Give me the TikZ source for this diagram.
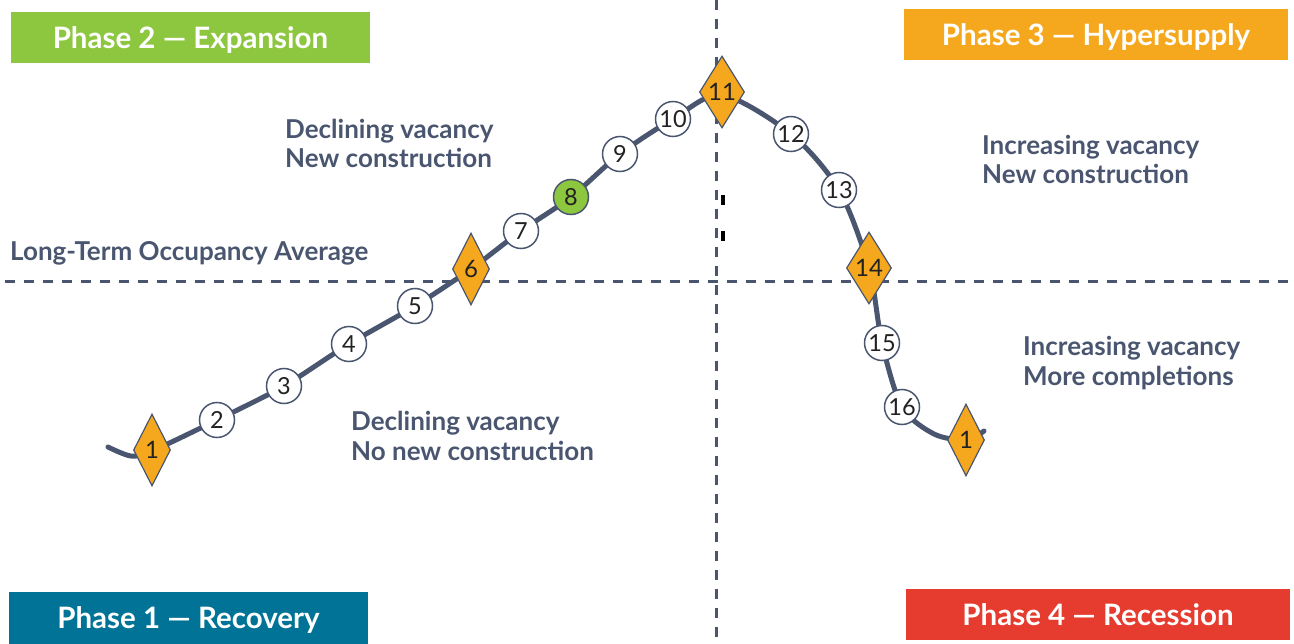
\documentclass[tikz,border=0pt]{standalone}
\usepackage{fontspec}
\setmainfont{Lato}
\usetikzlibrary{shapes.geometric}
\definecolor{slate}{HTML}{4A5670}
\definecolor{orng}{HTML}{F5A81D}
\definecolor{grn}{HTML}{8DC63F}
\definecolor{teal1}{HTML}{007396}
\definecolor{red1}{HTML}{E63C2F}
\definecolor{numtxt}{HTML}{222222}
\begin{document}
\begin{tikzpicture}[x=1pt,y=-1pt,
  pt/.style={circle, draw=slate, line width=1.5pt, fill=white, minimum size=35pt, inner sep=0pt,
    font=\fontsize{23.5}{23.5}\selectfont, text=numtxt},
  dia/.style={diamond, draw=slate, line width=1.2pt, fill=orng, minimum width=37pt, minimum height=72pt,
    inner sep=0pt, font=\fontsize{24}{24}\selectfont, text=numtxt},
  phase/.style={text=white, font=\bfseries\fontsize{29.5}{29.5}\selectfont, inner sep=0pt, text depth=0pt},
  lab/.style={text=slate, font=\bfseries\fontsize{26}{26}\selectfont, anchor=base west, inner sep=0pt},
  axisline/.style={slate, line width=3pt, dash pattern=on 10pt off 9pt},
  curveline/.style={slate, line width=5pt, line cap=round}
]
\useasboundingbox (0,0) rectangle (1294,644);

% phase boxes
\node[phase, fill=grn, minimum width=359pt, minimum height=51pt] (p2) at (190.5,37.5) {Phase 2 — Expansion};
\node[phase, fill=orng, minimum width=384pt, minimum height=51pt] (p3) at (1096,34.5) {Phase 3 — Hypersupply};
\node[phase, fill=teal1, minimum width=359pt, minimum height=52pt] (p1) at (188.5,618) {Phase 1 — Recovery};
\node[phase, fill=red1, minimum width=384pt, minimum height=51pt] (p4) at (1098,614.5) {Phase 4 — Recession};

% axes
\coordinate (vt) at (716,0);
\coordinate (vb) at (716,644);
\coordinate (hl) at (5,282);
\coordinate (hr) at (1294,282);
\draw[axisline] (vt) -- (vb);
\draw[axisline] (hl) -- (hr);

% small marks
\fill[black] (720.5,195) rectangle (724.5,205);
\fill[black] (720.5,231) rectangle (724.5,241);

% curve points
\coordinate (a0) at (108,447);
\coordinate (a1) at (131,456);
\coordinate (c1) at (152,451);
\coordinate (c2) at (217,420);
\coordinate (c3) at (284,386);
\coordinate (c4) at (349,344);
\coordinate (c5) at (415,306);
\coordinate (c6) at (471,269);
\coordinate (c7) at (521,231);
\coordinate (c8) at (571,197);
\coordinate (c9) at (620,154);
\coordinate (c10) at (673,119);
\coordinate (c11) at (722,95);
\coordinate (c12) at (791,134);
\coordinate (c13) at (839,190);
\coordinate (c14) at (869,268);
\coordinate (c15) at (882,343);
\coordinate (c16) at (902,407);
\coordinate (b1) at (934,434);
\coordinate (c17) at (966,440);
\coordinate (b2) at (984,431);

\draw[curveline] plot[smooth, tension=0.5] coordinates {(a0) (a1) (c1) (c2) (c3) (c4) (c5) (c6) (c7) (c8) (c9) (c10) (c11) (c12) (c13) (c14) (c15) (c16) (b1) (c17) (b2)};

% nodes
\node[dia] (n1) at (152,450) {1};
\node[pt] (n2) at (c2) {2};
\node[pt] (n3) at (c3) {3};
\node[pt] (n4) at (c4) {4};
\node[pt] (n5) at (c5) {5};
\node[dia] (n6) at (c6) {6};
\node[pt] (n7) at (c7) {7};
\node[pt, fill=grn] (n8) at (c8) {8};
\node[pt] (n9) at (c9) {9};
\node[pt] (n10) at (c10) {10};
\node[dia] (n11) at (722,92) {11};
\node[pt] (n12) at (c12) {12};
\node[pt] (n13) at (c13) {13};
\node[dia] (n14) at (c14) {14};
\node[pt] (n15) at (c15) {15};
\node[pt] (n16) at (c16) {16};
\node[dia] (n17) at (c17) {1};

% labels
\node[lab] (t1a) at (285,139) {Declining vacancy};
\node[lab] (t1b) at (285,168) {New construction};
\node[lab] (t2) at (10,261) {Long-Term Occupancy Average};
\node[lab] (t3a) at (982,155) {Increasing vacancy};
\node[lab] (t3b) at (982,184) {New construction};
\node[lab] (t4a) at (1023,356) {Increasing vacancy};
\node[lab] (t4b) at (1023,385) {More completions};
\node[lab] (t5a) at (351,431) {Declining vacancy};
\node[lab] (t5b) at (351,460) {No new construction};
\end{tikzpicture}
\end{document}
